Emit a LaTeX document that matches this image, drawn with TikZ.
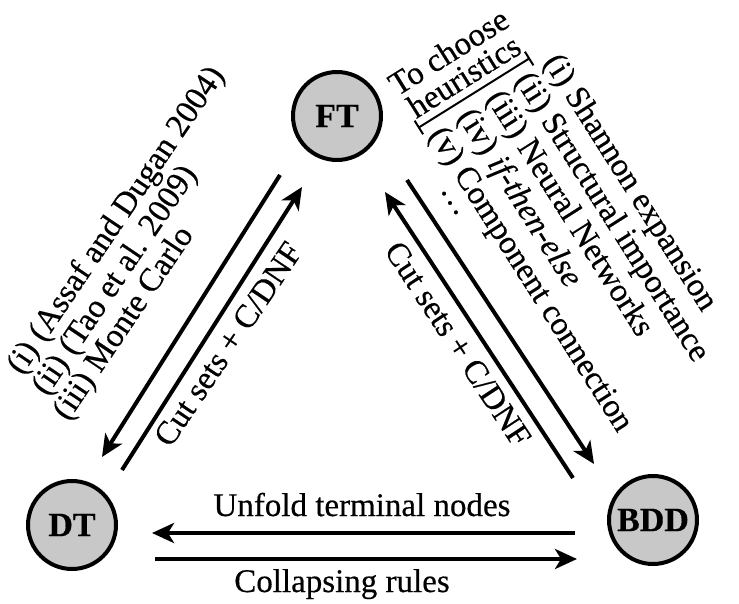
\documentclass[tikz,border=0pt]{standalone}
\usepackage{fontspec}
\setmainfont{Liberation Serif}[FakeBold=0.4]
\usetikzlibrary{arrows.meta}
\definecolor{nodegray}{RGB}{200,200,200}
\begin{document}
\begin{tikzpicture}[x=1pt,y=-1pt,
  state/.style={circle, draw=black, line width=4pt, fill=nodegray, minimum size=88pt, inner sep=0pt, font=\fontsize{34}{34}\selectfont\bfseries},
  conn/.style={line width=4pt, -{Stealth[length=22pt,width=20pt,inset=6pt]}},
  lbl/.style={inner sep=0pt, font=\fontsize{33}{33}\selectfont},
  ]
\useasboundingbox (0,0) rectangle (739,604);
\node[state] (FT) at (337,116) {FT};
\node[state] (DT) at (72,525) {DT};
\node[state] (BDD) at (653,520) {BDD};
% connector ends
\coordinate (a1s) at (280,175); \coordinate (a1e) at (102,457);
\coordinate (a2s) at (122,470); \coordinate (a2e) at (302,187);
\coordinate (a3s) at (573,478); \coordinate (a3e) at (385,192);
\coordinate (a4s) at (407,180); \coordinate (a4e) at (594,464);
\coordinate (h1s) at (575,533); \coordinate (h1e) at (152,533);
\coordinate (h2s) at (155,559); \coordinate (h2e) at (577,559);
\draw[conn] (a1s) -- (a1e);
\draw[conn] (a2s) -- (a2e);
\draw[conn] (a3s) -- (a3e);
\draw[conn] (a4s) -- (a4e);
\draw[conn] (h1s) -- (h1e);
\draw[conn] (h2s) -- (h2e);
% bottom labels
\node[lbl, anchor=base] (unf) at (362,516) {Unfold terminal nodes};
\node[lbl, anchor=base] (col) at (342,592) {Collapsing rules};
% cut sets labels
\node[lbl, rotate=56] (csl) at (228,344) {Cut sets + C/DNF};
\node[lbl, rotate=-56.6] (csr) at (458,344) {Cut sets + C/DNF};
% left references
\node[lbl, rotate=56, anchor=base west] (r1) at (22,376) {(i) (Assaf and Dugan 2004)};
\node[lbl, rotate=56, anchor=base west] (r2) at (47,397) {(ii) (Tao et al. 2009)};
\node[lbl, rotate=56, anchor=base west] (r3) at (68,422) {(iii) Monte Carlo};
% right heuristics
\node[lbl, rotate=-57.6, anchor=base west] (e1) at (543,62) {(i) Shannon expansion};
\node[lbl, rotate=-57.6, anchor=base west] (e2) at (514.3,80.2) {(ii) Structural importance};
\node[lbl, rotate=-57.6, anchor=base west] (e3) at (485.6,98.4) {(iii) Neural Networks};
\node[lbl, rotate=-57.6, anchor=base west] (e4) at (456.9,116.6) {(iv) \textit{if-then-else}};
\node[lbl, rotate=-57.6, anchor=base west] (e5) at (428.2,134.8) {(v) Component connection};
\node[lbl, rotate=-57.6] (e6) at (450,203) {\dots};
% to choose heuristics
\coordinate (b1) at (418,128); \coordinate (b2) at (530,58);
\draw[line width=2pt, {Bar[width=16pt]}-{Bar[width=16pt]}] (b1) -- (b2);
\node[lbl, rotate=32, anchor=south, align=center, font=\fontsize{33}{29}\selectfont] (tch) at (470,86) {To choose\\heuristics};
\end{tikzpicture}
\end{document}
